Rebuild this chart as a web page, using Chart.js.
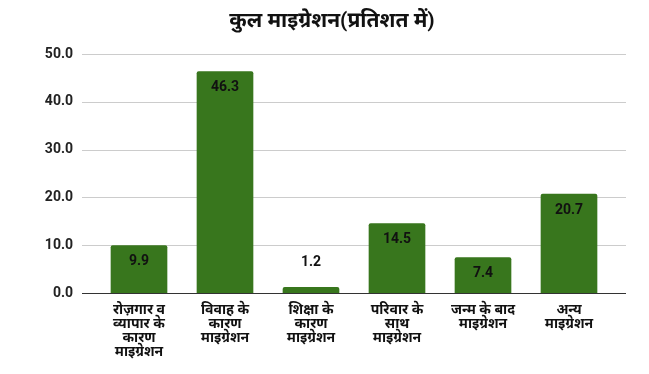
<!DOCTYPE html>
<html>
<head>
<meta charset="utf-8">
<script src="https://cdn.jsdelivr.net/npm/chart.js@4"></script>
<style>
  html, body { margin: 0; padding: 0; background: #fff; }
  #wrap { width: 649px; height: 374px; }
</style>
</head>
<body>
<div id="wrap"><canvas id="miCanva" width="649" height="374"></canvas></div>
<script>
const titulo = 'कुल माइग्रेशन(प्रतिशत में)';
const categorias = [
  ['रोज़गार व', 'व्यापार के', 'कारण', 'माइग्रेशन'],
  ['विवाह के', 'कारण', 'माइग्रेशन'],
  ['शिक्षा के', 'कारण', 'माइग्रेशन'],
  ['परिवार के', 'साथ', 'माइग्रेशन'],
  ['जन्म के बाद', 'माइग्रेशन'],
  ['अन्य', 'माइग्रेशन']
];
const valores = [9.9, 46.3, 1.2, 14.5, 7.4, 20.7];
const ticksY = [0, 10, 20, 30, 40, 50];

const fuente = 'Roboto, "Noto Sans", sans-serif';

// title centred on the whole canvas, not on the plot
const tituloPlugin = {
  id: 'tituloPlugin',
  afterDraw(chart) {
    const { ctx } = chart;
    ctx.save();
    ctx.font = 'bold 21px ' + fuente;
    ctx.fillStyle = '#111111';
    ctx.textAlign = 'center';
    ctx.textBaseline = 'middle';
    ctx.fillText(titulo, 332, 22);
    ctx.restore();
  }
};

// horizontal lines wider than the plot area, like the original
const lineasGrid = {
  id: 'lineasGrid',
  beforeDatasetsDraw(chart) {
    const { ctx, scales: { y } } = chart;
    ctx.save();
    ticksY.forEach(v => {
      const py = Math.round(y.getPixelForValue(v)) + 0.5;
      ctx.beginPath();
      ctx.strokeStyle = v === 0 ? '#333333' : '#cccccc';
      ctx.lineWidth = 1;
      ctx.moveTo(82, py);
      ctx.lineTo(626, py);
      ctx.stroke();
    });
    ctx.restore();
  }
};

// value labels inside the top of each bar (above it when the bar is short)
const etiquetas = {
  id: 'etiquetas',
  afterDatasetsDraw(chart) {
    const { ctx } = chart;
    const meta = chart.getDatasetMeta(0);
    ctx.save();
    ctx.font = 'bold 14px ' + fuente;
    ctx.fillStyle = '#111111';
    ctx.textAlign = 'center';
    ctx.textBaseline = 'middle';
    meta.data.forEach((bar, i) => {
      const alto = bar.base - bar.y;
      const py = alto > 30 ? bar.y + 16 : bar.y - 25;
      ctx.fillText(valores[i].toFixed(1), bar.x, py);
    });
    ctx.restore();
  }
};

new Chart(document.getElementById('miCanva'), {
  type: 'bar',
  data: {
    labels: categorias,
    datasets: [{
      data: valores,
      backgroundColor: '#38761d',
      borderRadius: 2,
      borderSkipped: 'bottom',
      barThickness: 56
    }]
  },
  options: {
    responsive: false,
    animation: false,
    layout: { padding: { left: 0, right: 37, top: 54, bottom: 0 } },
    plugins: {
      legend: { display: false },
      tooltip: { enabled: false },
      title: { display: false }
    },
    scales: {
      x: {
        grid: { display: false, drawTicks: false },
        border: { display: false },
        ticks: {
          color: '#111111',
          font: { family: fuente, size: 14, weight: 'bold', lineHeight: 1.0 },
          padding: 10,
          maxRotation: 0,
          autoSkip: false
        },
        afterFit(scale) { scale.height = 81; }
      },
      y: {
        min: 0,
        max: 50,
        grid: { display: false, drawTicks: false },
        border: { display: false },
        ticks: {
          stepSize: 10,
          color: '#222222',
          padding: 23,
          font: { family: fuente, size: 14, weight: 'bold' },
          callback: v => v.toFixed(1)
        },
        afterFit(scale) { scale.width = 96; }
      }
    }
  },
  plugins: [lineasGrid, etiquetas, tituloPlugin]
});
</script>
</body>
</html>
